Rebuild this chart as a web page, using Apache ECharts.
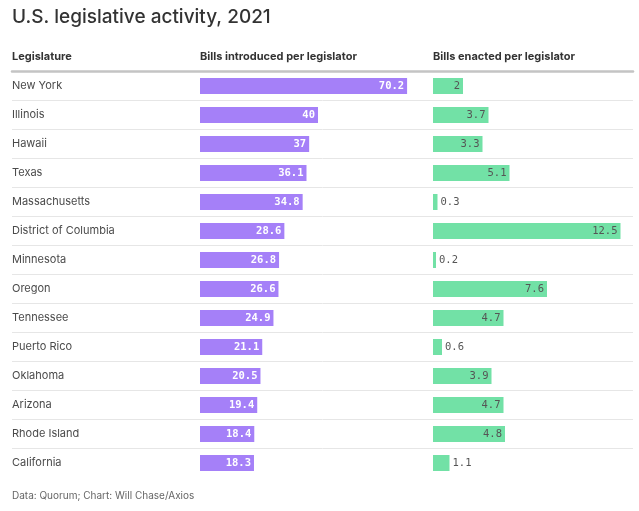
<!DOCTYPE html>
<html><head><meta charset="utf-8">
<script src="https://cdn.jsdelivr.net/npm/echarts@6/dist/echarts.min.js"></script>
<style>html,body{margin:0;padding:0;background:#fff}#c{width:639px;height:511px}</style>
</head><body><div id="c"></div>
<script>
const legislatures = ["New York","Illinois","Hawaii","Texas","Massachusetts","District of Columbia","Minnesota","Oregon","Tennessee","Puerto Rico","Oklahoma","Arizona","Rhode Island","California"];
const introduced = [70.2,40,37,36.1,34.8,28.6,26.8,26.6,24.9,21.1,20.5,19.4,18.4,18.3];
const enacted = [2,3.7,3.3,5.1,0.3,12.5,0.2,7.6,4.7,0.6,3.9,4.7,4.8,1.1];
const title = "U.S. legislative activity, 2021";
const headers = ["Legislature","Bills introduced per legislator","Bills enacted per legislator"];
const footer = "Data: Quorum; Chart: Will Chase/Axios";

const mono = "'DejaVu Sans Mono', 'Liberation Mono', monospace";
const sans = "Inter, Roboto, 'Noto Sans', sans-serif";
const TOP = 71.5, ROWH = 29, N = legislatures.length;
const splitColors = [];
for (let i = 0; i <= N; i++) splitColors.push(i === 0 || i === N ? 'rgba(0,0,0,0)' : '#e6e6e6');

const chart = echarts.init(document.getElementById('c'), null, {renderer: 'canvas'});
chart.setOption({
  backgroundColor: '#fff',
  animation: false,
  title: [
    {text: title, left: 12, top: 8, padding: 0, textStyle: {fontFamily: sans, fontSize: 19, fontWeight: 500, color: '#333'}},
    {text: headers[0], left: 12, top: 51, padding: 0, textStyle: {fontFamily: sans, fontSize: 11, fontWeight: 'bold', color: '#333'}},
    {text: headers[1], left: 200, top: 51, padding: 0, textStyle: {fontFamily: sans, fontSize: 11, fontWeight: 'bold', color: '#333'}},
    {text: headers[2], left: 433, top: 51, padding: 0, textStyle: {fontFamily: sans, fontSize: 11, fontWeight: 'bold', color: '#333'}},
    {text: footer, left: 12, top: 491, padding: 0, textStyle: {fontFamily: sans, fontSize: 10, fontWeight: 'normal', color: '#666'}}
  ],
  grid: [
    {left: 12, width: 621, top: TOP, height: ROWH * N},
    {left: 200, width: 236, top: TOP, height: ROWH * N},
    {left: 433, width: 195, top: TOP, height: ROWH * N}
  ],
  xAxis: [
    {gridIndex: 0, type: 'value', position: 'top', min: 0, max: 1, axisLine: {show: true, lineStyle: {color: '#c4c4c4', width: 2.5}}, axisTick: {show: false}, axisLabel: {show: false}, splitLine: {show: false}},
    {gridIndex: 1, type: 'value', min: 0, max: 80, show: false},
    {gridIndex: 2, type: 'value', min: 0, max: 13, show: false}
  ],
  yAxis: [
    {gridIndex: 0, type: 'category', inverse: true, data: legislatures, axisLine: {show: false}, axisTick: {show: false},
     axisLabel: {show: true, margin: 0, inside: true, align: 'left', fontFamily: sans, fontSize: 11, color: '#4a4a4a'},
     splitLine: {show: true, lineStyle: {color: splitColors, width: 1}}},
    {gridIndex: 1, type: 'category', inverse: true, data: legislatures, show: false},
    {gridIndex: 2, type: 'category', inverse: true, data: legislatures, show: false}
  ],
  series: [
    {type: 'bar', xAxisIndex: 1, yAxisIndex: 1, barWidth: 16, itemStyle: {color: '#a580f8'},
     data: introduced,
     label: {show: true, position: 'insideRight', distance: 3, color: '#fff', fontFamily: mono, fontSize: 10.5, fontWeight: 'bold'}},
    {type: 'bar', xAxisIndex: 2, yAxisIndex: 2, barWidth: 16, itemStyle: {color: '#72e1a6'},
     data: enacted.map(v => ({value: v, label: v < 2 ? {position: 'right', distance: 3} : {position: 'insideRight', distance: 3}})),
     label: {show: true, color: '#555', fontFamily: mono, fontSize: 10.5, fontWeight: 'normal'}}
  ]
});
</script></body></html>
